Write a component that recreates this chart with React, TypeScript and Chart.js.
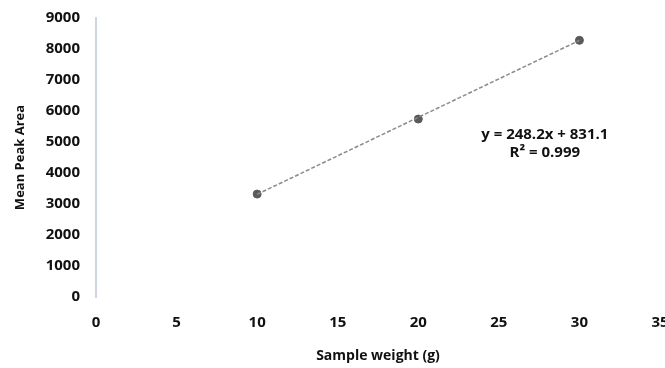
import React, { useEffect, useRef } from "react";
import { Chart, registerables } from "chart.js";

Chart.register(...registerables);

const sampleWeights = [10, 20, 30];
const meanPeakAreas = [3320, 5740, 8280];
const trendX = [10, 30];
const trendY = [3313, 8277];
const equationLines = ["y = 248.2x + 831.1", "R² = 0.999"];
const xTicks = [0, 5, 10, 15, 20, 25, 30, 35];
const yTicks = [0, 1000, 2000, 3000, 4000, 5000, 6000, 7000, 8000, 9000];

const FONT = "'Open Sans', 'DejaVu Sans', sans-serif";

const equationPlugin = {
  id: "equationText",
  afterDatasetsDraw(chart: any) {
    const { ctx, scales } = chart;
    const x = scales.x.getPixelForValue(27.85);
    const y = scales.y.getPixelForValue(5240);
    ctx.save();
    ctx.fillStyle = "#111";
    ctx.font = `bold 15px ${FONT}`;
    ctx.textAlign = "center";
    ctx.textBaseline = "middle";
    ctx.fillText(equationLines[0], x, y);
    ctx.fillText(equationLines[1], x, y + 18);
    ctx.restore();
  },
};

export default function App() {
  const canvasRef = useRef<HTMLCanvasElement | null>(null);

  useEffect(() => {
    if (!canvasRef.current) return;
    const chart = new Chart(canvasRef.current, {
      type: "scatter",
      data: {
        datasets: [
          {
            label: "Trend",
            data: trendX.map((x, i) => ({ x, y: trendY[i] })),
            showLine: true,
            borderColor: "#8a8a8a",
            borderWidth: 1.5,
            borderDash: [4, 2],
            pointRadius: 0,
            fill: false,
          },
          {
            label: "Mean Peak Area",
            data: sampleWeights.map((x, i) => ({ x, y: meanPeakAreas[i] })),
            backgroundColor: "#5a5a5a",
            borderColor: "#5a5a5a",
            pointRadius: 4,
            showLine: false,
          },
        ],
      },
      options: {
        animation: false,
        responsive: false,
        maintainAspectRatio: false,
        layout: { padding: { top: 18, right: 4, left: 0, bottom: 0 } },
        plugins: { legend: { display: false }, tooltip: { enabled: false } },
        scales: {
          x: {
            type: "linear",
            min: 0,
            max: 35,
            afterBuildTicks(axis: any) {
              axis.ticks = xTicks.map((v) => ({ value: v }));
            },
            afterFit(axis: any) {
              axis.height = 71;
              axis.paddingLeft = 0;
              axis.paddingRight = 0;
            },
            border: { display: false },
            grid: { display: false, drawTicks: false },
            ticks: {
              color: "#111",
              padding: 17,
              maxRotation: 0,
              autoSkip: false,
              font: { family: FONT, size: 15, weight: "bold" },
            },
            title: {
              display: true,
              text: "Sample weight (g)",
              color: "#111",
              padding: { top: 9 },
              font: { family: FONT, size: 14, weight: "bold" },
            },
          },
          y: {
            type: "linear",
            min: 0,
            max: 9000,
            afterBuildTicks(axis: any) {
              axis.ticks = yTicks.map((v) => ({ value: v }));
            },
            afterFit(axis: any) {
              axis.width = 96;
              axis.paddingTop = 0;
              axis.paddingBottom = 0;
            },
            border: { display: true, color: "#cfd6e2", width: 2 },
            grid: { display: false, drawTicks: false },
            ticks: {
              color: "#111",
              padding: 16,
              autoSkip: false,
              callback: (v: any) => String(v),
              font: { family: FONT, size: 15, weight: "bold" },
            },
            title: {
              display: true,
              text: "Mean Peak Area",
              color: "#111",
              padding: { top: 12, bottom: 0 },
              font: { family: FONT, size: 13, weight: "bold" },
            },
          },
        },
      },
      plugins: [equationPlugin],
    } as any);
    return () => chart.destroy();
  }, []);

  return (
    <div style={{ position: "fixed", left: 0, top: 0, width: 665, height: 368, background: "#fff" }}>
      <canvas ref={canvasRef} width={665} height={368} />
    </div>
  );
}
